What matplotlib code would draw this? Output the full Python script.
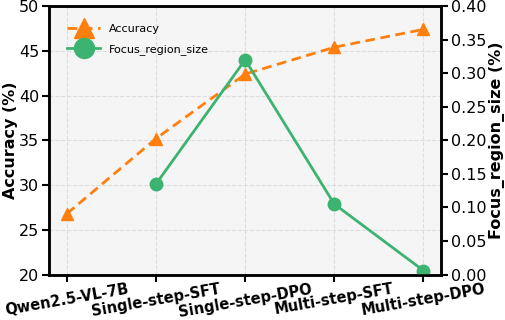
import matplotlib
matplotlib.use("Agg")
import matplotlib.pyplot as plt
import numpy as np

categories = ["Qwen2.5-VL-7B", "Single-step-SFT", "Single-step-DPO", "Multi-step-SFT", "Multi-step-DPO"]
accuracy = [26.8, 35.2, 42.4, 45.4, 47.4]
focus_size = [np.nan, 0.135, 0.320, 0.105, 0.006]
right_ticks = [0.00, 0.05, 0.10, 0.15, 0.20, 0.25, 0.30, 0.35, 0.40]

orange = "#ff7f0e"
green = "#3cb371"

fig, ax = plt.subplots(figsize=(5.06, 3.2), dpi=100)
fig.subplots_adjust(left=0.097, right=0.872, top=0.981, bottom=0.142)
ax.set_facecolor("#f5f5f5")
x = np.arange(len(categories))

l1, = ax.plot(x, accuracy, linestyle="--", color=orange, marker="^", markersize=9,
              linewidth=2, dashes=(3.5, 2), label="Accuracy")
ax.set_ylim(20, 50)
ax.set_ylabel("Accuracy (%)", fontsize=11.5, fontweight="bold", labelpad=1)
ax.grid(True, linestyle="--", color="#dddddd", linewidth=0.8)
ax.set_axisbelow(True)

ax2 = ax.twinx()
l2, = ax2.plot(x, focus_size, linestyle="-", color=green, marker="o", markersize=9,
               linewidth=2, label="Focus_region_size")
ax2.set_ylim(0, 0.40)
ax2.set_yticks(right_ticks)
ax2.set_yticklabels([f"{v:.2f}" for v in right_ticks])
ax2.set_ylabel("Focus_region_size (%)", fontsize=11.5, fontweight="bold", labelpad=2)

ax.set_xticks(x)
ax.set_xticklabels(categories, rotation=10, fontweight="bold", fontsize=10.5)
for t in ax.get_xticklabels():
    t.set_ha("center")
for a in (ax, ax2):
    for s in a.spines.values():
        s.set_linewidth(1.8)
    a.tick_params(width=1.5, length=5)
ax.tick_params(axis="x", pad=0)
ax.tick_params(axis="y", labelsize=11.5, pad=2)
ax2.tick_params(axis="y", labelsize=11.5, pad=2)

ax.legend([l1, l2], ["Accuracy", "Focus_region_size"], loc="upper left", frameon=False,
          markerscale=1.6, fontsize=8, handlelength=3, labelspacing=0.9,
          bbox_to_anchor=(0.02, 0.97))

fig.savefig("out.png", dpi=100)
